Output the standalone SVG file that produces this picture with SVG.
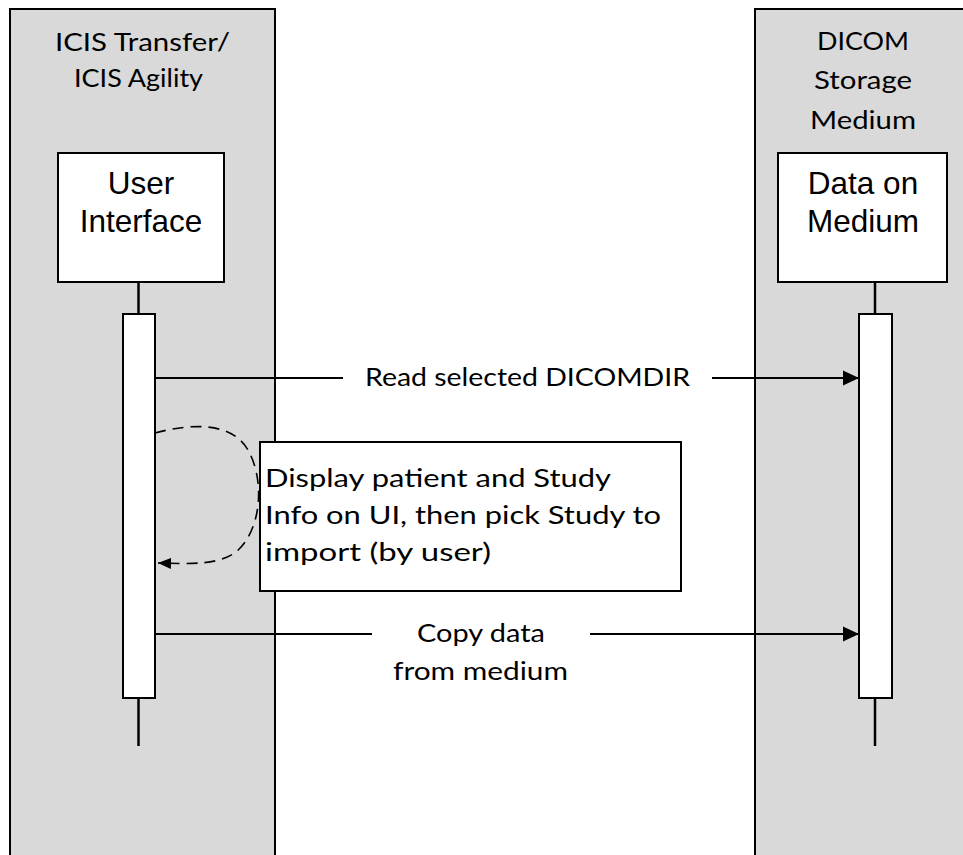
<svg xmlns="http://www.w3.org/2000/svg" width="963" height="855" viewBox="0 0 963 855">
<style>
.lane{fill:#d9d9d9;stroke:#000;stroke-width:2}
.box{fill:#fff;stroke:#000;stroke-width:2}
.life{stroke:#000;stroke-width:2.5;fill:none}
.msg{stroke:#000;stroke-width:2;fill:none}
.dash{stroke:#000;stroke-width:1.6;fill:none;stroke-dasharray:11 7}
.cal{font-family:Lato,"Liberation Sans",sans-serif;font-size:24.5px;fill:#000}
.ar{font-family:"Liberation Sans",Arial,sans-serif;font-size:31.5px;fill:#000;text-anchor:middle}
</style>
<defs>
<marker id="ah" markerUnits="userSpaceOnUse" markerWidth="16" markerHeight="16" viewBox="0 0 16 16" refX="16" refY="8" orient="auto">
<path d="M0,0.5 L16,8 L0,15.5 z" fill="#000"/>
</marker>
<marker id="ahs" markerUnits="userSpaceOnUse" markerWidth="13" markerHeight="11" viewBox="0 0 13 11" refX="13" refY="5.5" orient="auto">
<path d="M0,0 L13,5.5 L0,11 z" fill="#000"/>
</marker>
</defs>
<rect width="963" height="855" fill="#fff"/>
<g id="lane-icis">
<rect class="lane" x="10" y="9" width="265" height="860"/>
<text class="cal" x="55" y="51" textLength="175" lengthAdjust="spacingAndGlyphs">ICIS Transfer/</text>
<text class="cal" x="74" y="87" textLength="129" lengthAdjust="spacingAndGlyphs">ICIS Agility</text>
</g>
<g id="lane-dicom">
<rect class="lane" x="755" y="9" width="220" height="860"/>
<text class="cal" x="817" y="50" textLength="92" lengthAdjust="spacingAndGlyphs">DICOM</text>
<text class="cal" x="814" y="89" textLength="98" lengthAdjust="spacingAndGlyphs">Storage</text>
<text class="cal" x="810" y="129" textLength="106" lengthAdjust="spacingAndGlyphs">Medium</text>
</g>
<g id="user-interface">
<line class="life" x1="138.5" y1="282" x2="138.5" y2="746"/>
<rect class="box" x="58" y="153" width="166" height="129"/>
<text class="ar" x="141" y="194">User</text>
<text class="ar" x="141" y="232">Interface</text>
<rect class="box" x="123" y="314" width="32" height="384"/>
</g>
<g id="data-on-medium">
<line class="life" x1="875" y1="282" x2="875" y2="746"/>
<rect class="box" x="778" y="153" width="169" height="129"/>
<text class="ar" x="863" y="194">Data on</text>
<text class="ar" x="863" y="232">Medium</text>
<rect class="box" x="859" y="314" width="33" height="384"/>
</g>
<g id="connectors">
<line class="msg" x1="155" y1="378" x2="859" y2="378" marker-end="url(#ah)"/>
<rect x="343" y="360" width="369" height="36" fill="#fff"/>
<text class="cal" x="365" y="386" textLength="325" lengthAdjust="spacingAndGlyphs">Read selected DICOMDIR</text>
<line class="msg" x1="155" y1="634" x2="859" y2="634" marker-end="url(#ah)"/>
<rect x="372" y="614" width="218" height="76" fill="#fff"/>
<text class="cal" x="417" y="642" textLength="128" lengthAdjust="spacingAndGlyphs">Copy data</text>
<text class="cal" x="393" y="680" textLength="175" lengthAdjust="spacingAndGlyphs">from medium</text>
<path class="dash" d="M155,433 C192,423 232,422 248,450 C265,480 262,530 236,552 C218,565 192,564 158,563" marker-end="url(#ahs)"/>
</g>
<g id="note">
<rect class="box" x="260" y="442" width="421" height="149"/>
<text class="cal" x="265" y="487" textLength="346" lengthAdjust="spacingAndGlyphs">Display patient and Study</text>
<text class="cal" x="265" y="524" textLength="396" lengthAdjust="spacingAndGlyphs">Info on UI, then pick Study to</text>
<text class="cal" x="265" y="561" textLength="226" lengthAdjust="spacingAndGlyphs">import (by user)</text>
</g>
</svg>
